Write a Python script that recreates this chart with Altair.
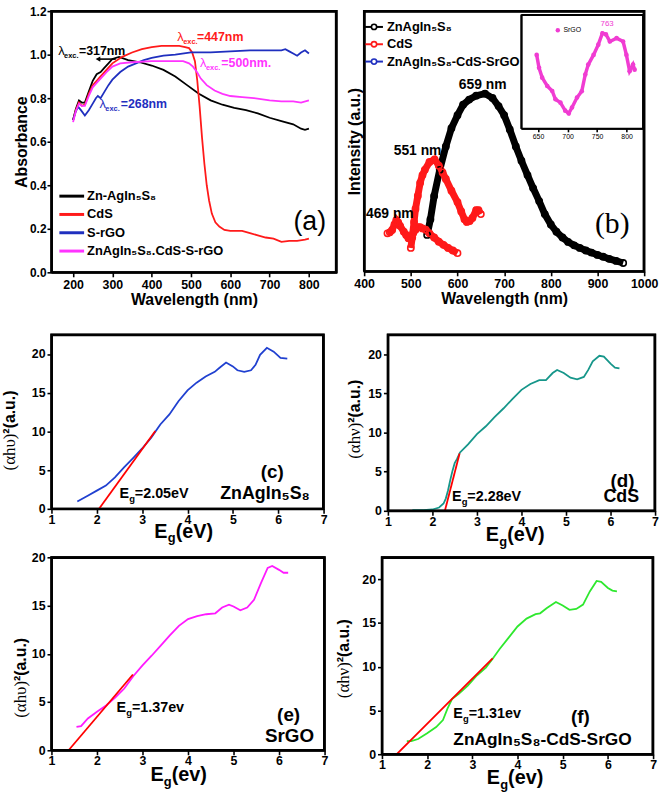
import altair as alt
import pandas as pd

SANS = "Liberation Sans"
SERIF = "Liberation Serif"

# ---------------- (a) UV-vis absorbance ----------------
A_NAMES = ["Zn-AgIn₅S₈", "CdS", "S-rGO", "ZnAgIn₅S₈.CdS-S-rGO"]
A_COLORS = ["#000000", "#ff1a1a", "#1f2fbf", "#ff33ff"]
a_wl_zn = [200, 207, 215, 222, 230, 240, 250, 260, 270, 280, 290, 300, 317, 340, 370, 400, 430, 460, 490,
           520, 550, 580, 610, 640, 670, 700, 730, 760, 780, 790, 800]
a_abs_zn = [0.70, 0.75, 0.79, 0.78, 0.78, 0.83, 0.88, 0.91, 0.92, 0.94, 0.96, 0.98, 0.99, 0.975, 0.965, 0.95,
            0.93, 0.90, 0.86, 0.82, 0.79, 0.77, 0.755, 0.745, 0.73, 0.71, 0.695, 0.68, 0.66, 0.655, 0.66]
a_wl_cds = [200, 207, 215, 222, 230, 240, 250, 260, 270, 285, 300, 325, 350, 375, 400, 425, 450, 470, 485, 495,
            503, 510, 516, 522, 528, 534, 540, 546, 553, 562, 572, 585, 600, 630, 650, 670, 690, 710, 730, 750,
            770, 790, 800]
a_abs_cds = [0.70, 0.745, 0.78, 0.765, 0.77, 0.82, 0.86, 0.88, 0.90, 0.93, 0.96, 0.99, 1.01, 1.025, 1.035, 1.04,
             1.04, 1.04, 1.035, 1.03, 1.01, 0.97, 0.88, 0.76, 0.62, 0.50, 0.40, 0.33, 0.27, 0.23, 0.21, 0.195,
             0.19, 0.19, 0.18, 0.17, 0.16, 0.155, 0.14, 0.145, 0.145, 0.15, 0.155]
a_wl_srgo = [200, 207, 213, 220, 230, 240, 250, 258, 263, 270, 280, 290, 300, 320, 340, 360, 380, 400, 430, 460,
             500, 550, 600, 650, 700, 730, 740, 750, 760, 770, 780, 790, 800]
a_abs_srgo = [0.70, 0.74, 0.76, 0.745, 0.72, 0.745, 0.775, 0.80, 0.81, 0.80, 0.83, 0.86, 0.885, 0.92, 0.945,
              0.96, 0.975, 0.985, 0.995, 1.0, 1.01, 1.01, 1.015, 1.02, 1.02, 1.02, 1.025, 1.015, 1.005, 0.995,
              1.01, 1.02, 1.005]
a_wl_comp = [200, 207, 215, 222, 230, 240, 250, 260, 270, 285, 300, 320, 350, 400, 450, 480, 495, 505, 515, 525,
             540, 560, 580, 600, 630, 660, 700, 730, 760, 780, 800]
a_abs_comp = [0.69, 0.74, 0.775, 0.765, 0.765, 0.81, 0.85, 0.87, 0.89, 0.92, 0.945, 0.96, 0.965, 0.97, 0.97,
              0.97, 0.96, 0.945, 0.92, 0.89, 0.86, 0.835, 0.82, 0.81, 0.805, 0.80, 0.79, 0.785, 0.785, 0.78, 0.79]
a_exc_labels = ["=317nm", "=447nm", "=500nm.", "=268nm"]
a_xticks = [200, 300, 400, 500, 600, 700, 800]
A_XDOM = [145, 870]
A_YDOM = [0, 1.2]

# ---------------- (b) photoluminescence ----------------
B_NAMES = ["ZnAgIn₅S₈", "CdS", "ZnAgIn₅S₈-CdS-SrGO"]
B_COLORS = ["#000000", "#ff1a1a", "#1f2fbf"]
b_wl_zn = [535, 542, 550, 562, 575, 587, 600, 612, 625, 640, 659, 675, 688, 700, 712, 725, 737, 750, 762, 775,
           787, 800, 812, 825, 837, 850, 862, 875, 887, 900, 912, 925, 940, 955]
b_int_zn = [14, 20, 29, 39, 48, 55, 60, 64, 66, 67.5, 68.3, 66.6, 63.5, 60, 54.5, 48, 42.5, 37, 32, 27, 22, 18,
            15.2, 13, 11.3, 10, 9, 8, 7.2, 6.3, 5.6, 4.8, 4, 3.2]
b_wl_cds = [500, 503, 507, 510, 515, 520, 525, 530, 540, 551, 560, 568, 575, 587, 600, 608, 615, 620, 626, 632,
            640, 645, 650]
b_int_cds = [9, 13, 19, 24, 29, 34, 37, 39, 42, 43, 40.6, 38, 35.5, 31, 26.6, 23, 20, 19, 19.3, 20.5, 23.5,
             23.5, 22]
b_wl_comp = [450, 455, 460, 465, 469, 473, 477, 485, 490, 495, 500, 505, 510, 515, 520, 525, 532, 540, 550, 560,
             570, 580, 590, 600]
b_int_comp = [14.6, 15, 15.9, 18, 19.7, 18.8, 17.5, 15.2, 14, 12.7, 12.7, 14.6, 16, 17, 17, 16.5, 16, 14.6, 13,
              11.4, 10.2, 9, 8, 7]
b_peak_labels = ["659 nm", "551 nm", "469 nm"]
B_XDOM = [400, 1000]
B_YDOM = [0, 100]
# inset: SrGO
ins_wl = [647.7, 651.7, 657, 665.6, 674, 679.5, 688, 696, 702, 707.5, 716, 724, 730, 735, 744, 752, 759, 765,
          771.6, 783, 794, 799.6, 805, 810.8, 813.5]
ins_int = [65, 53.6, 45, 37.7, 33.3, 26, 23, 16, 13.6, 18.8, 27.5, 33, 47.8, 56.5, 65, 74, 84, 83, 76.8, 79.7,
           76.8, 65, 50.7, 56.5, 52]
ins_ticks = [650, 700, 750, 800]
I_XDOM = [622, 828]
I_YDOM = [0, 100]

# ---------------- (c)-(f) Tauc plots ----------------
c_eg = [1.57, 1.8, 2.0, 2.2, 2.4, 2.6, 2.8, 3.0, 3.2, 3.4, 3.6, 3.8, 4.0, 4.2, 4.4, 4.6, 4.7, 4.85, 5.0, 5.1,
        5.25, 5.4, 5.5, 5.6, 5.75, 5.9, 6.05, 6.2]
c_val = [0.94, 1.7, 2.35, 3.0, 4.07, 5.35, 6.55, 7.8, 9.2, 10.9, 12.2, 13.9, 15.3, 16.3, 17.1, 17.7, 18.2, 18.9,
         18.4, 17.9, 17.7, 17.9, 18.6, 19.9, 20.8, 20.3, 19.5, 19.4]
c_fit_x = [2.05, 3.29]
c_fit_y = [0, 10.06]
d_eg = [1.55, 1.8, 2.0, 2.15, 2.25, 2.3, 2.35, 2.4, 2.45, 2.5, 2.55, 2.62, 2.8, 3.0, 3.2, 3.4, 3.6, 3.8, 4.0,
        4.2, 4.4, 4.55, 4.7, 4.8, 4.95, 5.1, 5.25, 5.4, 5.5, 5.6, 5.75, 5.85, 6.0, 6.1, 6.2]
d_val = [0.08, 0.08, 0.17, 0.42, 0.93, 1.56, 2.6, 3.9, 5.1, 6.1, 6.6, 7.45, 8.5, 9.8, 10.8, 12.0, 13.1, 14.3,
         15.45, 16.2, 16.7, 16.7, 17.6, 18.0, 17.6, 17.0, 16.8, 17.1, 18.0, 19.1, 19.8, 19.7, 18.8, 18.3, 18.2]
d_fit_x = [2.28, 2.61]
d_fit_y = [0, 7.33]
e_eg = [1.55, 1.65, 1.8, 2.0, 2.2, 2.4, 2.6, 2.8, 3.0, 3.2, 3.4, 3.6, 3.8, 4.0, 4.2, 4.4, 4.6, 4.75, 4.9, 5.0,
        5.15, 5.3, 5.45, 5.6, 5.75, 5.85, 6.0, 6.1, 6.2]
e_val = [2.42, 2.5, 3.3, 4.0, 4.64, 5.46, 6.4, 7.7, 8.8, 9.8, 10.85, 11.9, 12.9, 13.6, 13.9, 14.1, 14.2, 14.8,
         15.1, 14.9, 14.5, 14.8, 15.6, 17.3, 18.9, 19.1, 18.7, 18.4, 18.4]
e_fit_x = [1.377, 2.79]
e_fit_y = [0, 7.85]
f_eg = [1.55, 1.65, 1.8, 2.0, 2.2, 2.35, 2.45, 2.55, 2.7, 2.9, 3.1, 3.3, 3.45, 3.6, 3.8, 4.0, 4.2, 4.4, 4.5,
        4.65, 4.85, 5.0, 5.15, 5.3, 5.45, 5.6, 5.75, 5.85, 6.0, 6.1, 6.2]
f_val = [1.5, 1.5, 1.74, 2.4, 3.1, 3.9, 5.2, 6.3, 6.9, 7.85, 9.0, 9.9, 10.9, 12.0, 13.3, 14.6, 15.5, 16.0, 16.1,
         16.7, 17.4, 17.0, 16.5, 16.6, 17.1, 18.6, 19.8, 19.7, 19.0, 18.7, 18.6]
f_fit_x = [1.328, 3.449]
f_fit_y = [0, 10.94]
eg_values = ["=2.05eV", "=2.28eV", "=1.37ev", "=1.31ev"]

ONE = pd.DataFrame({"k": [0]})
LW = 2.4  # frame line width


def txt(text, x, y, size, color="black", weight="bold", font=SANS, align="left",
        baseline="alphabetic", dx=0, dy=0, angle=0):
    kw = dict(text=text, fontSize=size, color=color, fontWeight=weight, font=font,
              align=align, baseline=baseline, dx=dx, dy=dy)
    if angle:
        kw["angle"] = angle
    return alt.Chart(ONE).mark_text(**kw).encode(x=x, y=y)


def hrule(x1, x2, y, color="#000000", width=2.0):
    return alt.Chart(ONE).mark_rule(color=color, strokeWidth=width).encode(
        x=alt.value(x1), x2=alt.value(x2), y=alt.value(y))


def vrule(x, y1, y2, color="#000000", width=2.0):
    return alt.Chart(ONE).mark_rule(color=color, strokeWidth=width).encode(
        x=alt.value(x), y=alt.value(y1), y2=alt.value(y2))


def box(xenc, yenc, xf, yf, xdom, ydom, width=LW):
    """Closed plot box drawn as a line through the panel's own scales (domain corners)."""
    df = pd.DataFrame({
        xf: [xdom[0], xdom[0], xdom[1], xdom[1], xdom[0]],
        yf: [ydom[0], ydom[1], ydom[1], ydom[0], ydom[0]],
        "ord": [0, 1, 2, 3, 4],
    })
    return alt.Chart(df).mark_line(color="#000000", strokeWidth=width).encode(
        x=xenc, y=yenc, order=alt.Order("ord:Q"))


def edge_rules(w, h):
    # thick edge lines just inside the plot box
    return [hrule(0.5, w - 0.5, 0.5, width=2.2), vrule(w - 0.5, 0.5, h - 0.5, width=2.2)]


def axis(values, test, title=None, fmt=None, **kw):
    d = dict(values=values, labelExpr=f"({test}) ? datum.label : ''",
             tickSize={"condition": {"test": test, "value": 4.5}, "value": 2.5},
             title=title, grid=False, labelOverlap=False, labelFlush=False)
    if fmt:
        d["format"] = fmt
    d.update(kw)
    return alt.Axis(**d)


# ================= panel (a) =================
AW, AH = 288, 264
a_df = pd.concat([
    pd.DataFrame({"wl": w, "absb": v, "series": n})
    for w, v, n in [(a_wl_zn, a_abs_zn, A_NAMES[0]), (a_wl_cds, a_abs_cds, A_NAMES[1]),
                    (a_wl_srgo, a_abs_srgo, A_NAMES[2]), (a_wl_comp, a_abs_comp, A_NAMES[3])]
])
xa = alt.X("wl:Q", scale=alt.Scale(domain=A_XDOM, nice=False, zero=False),
           axis=alt.Axis(values=a_xticks, format="d", title="Wavelength (nm)", titlePadding=1,
                         tickSize=4.5, grid=False, labelOverlap=False, labelFlush=False))
ya = alt.Y("absb:Q", scale=alt.Scale(domain=A_YDOM, nice=False),
           axis=axis([round(i * 0.1, 1) for i in range(13)],
                     "abs(datum.value*5 - round(datum.value*5)) < 0.001", title="Absorbance", fmt=".1f",
                     titlePadding=0, labelPadding=1, labelFontSize=12))
a_lines = alt.Chart(a_df).mark_line(strokeWidth=1.8).encode(
    x=xa, y=ya,
    color=alt.Color("series:N", sort=A_NAMES, scale=alt.Scale(domain=A_NAMES, range=A_COLORS), legend=None))

a_leg = []
for i, (nm, col) in enumerate(zip(A_NAMES, A_COLORS)):
    yy = 187 + 18.5 * i
    a_leg.append(hrule(8, 33, yy, color=col, width=3))
    a_leg.append(txt(nm, alt.value(36), alt.value(yy), 13, baseline="middle"))


def lam(x, y, rest, color, dx_rest):
    return [
        txt("λ", alt.datum(x), alt.datum(y), 13, color=color, weight="normal"),
        txt("exc.", alt.datum(x), alt.datum(y), 7.5, color=color, dx=6, dy=3),
        txt(rest, alt.datum(x), alt.datum(y), 12.5, color=color, dx=dx_rest),
    ]


a_ann = (lam(162, 1.0, a_exc_labels[0], "#000000", 21)
         + lam(465, 1.064, a_exc_labels[1], "#ff1a1a", 20)
         + lam(523, 0.942, a_exc_labels[2], "#ff33ff", 21.5)
         + lam(267, 0.753, a_exc_labels[3], "#1f2fbf", 21.5))
a_arrow = hrule(49, 65, 48.5, width=1.6)
a_head = alt.Chart(ONE).mark_point(shape="triangle-left", filled=True, size=30, color="#000000",
                                   opacity=1).encode(x=alt.value(47), y=alt.value(48.5))
a_tag = txt("(a)", alt.datum(802), alt.datum(0.23), 27, weight="normal", align="center",
            baseline="middle")
panel_a = alt.layer(a_lines, *a_ann, a_arrow, a_head, a_tag, *a_leg,
                    box(xa, ya, "wl", "absb", A_XDOM, A_YDOM), *edge_rules(AW, AH)).properties(
    width=AW, height=AH)

# ================= panel (b) =================
BW, BH = 283, 263
b_df = pd.concat([
    pd.DataFrame({"wl": w, "inten": v, "series": n})
    for w, v, n in [(b_wl_zn, b_int_zn, B_NAMES[0]), (b_wl_cds, b_int_cds, B_NAMES[1]),
                    (b_wl_comp, b_int_comp, B_NAMES[2])]
])
xb = alt.X("wl:Q", scale=alt.Scale(domain=B_XDOM, nice=False, zero=False),
           axis=axis(list(range(400, 1001, 50)), "datum.value % 100 === 0", title="Wavelength (nm)",
                     fmt="d", titlePadding=1))
yb = alt.Y("inten:Q", scale=alt.Scale(domain=B_YDOM, nice=False),
           axis=alt.Axis(labels=False, ticks=False, grid=False, title="Intensity (a.u.)",
                         titlePadding=2))
b_color = alt.Color("series:N", sort=B_NAMES, scale=alt.Scale(domain=B_NAMES, range=B_COLORS), legend=None)
b_lines = alt.Chart(b_df).mark_line(strokeWidth=7).encode(x=xb, y=yb, color=b_color)
b_pts = alt.Chart(b_df).mark_point(filled=False, size=40, strokeWidth=1.6, opacity=1).encode(
    x=xb, y=yb, color=b_color)
b_leg = []
for i, (nm, col) in enumerate(zip(B_NAMES, B_COLORS)):
    yy = 16 + 17.5 * i
    b_leg.append(hrule(1, 19, yy, color=col, width=2))
    b_leg.append(alt.Chart(ONE).mark_point(color=col, fill="white", filled=True, stroke=col,
                                           strokeWidth=1.6, size=28, opacity=1).encode(
        x=alt.value(10), y=alt.value(yy)))
    b_leg.append(txt(nm, alt.value(23), alt.value(yy), 13, baseline="middle"))
b_ann = [
    txt(b_peak_labels[0], alt.datum(654), alt.datum(71.7), 14, align="center", baseline="middle"),
    txt(b_peak_labels[1], alt.datum(514.5), alt.datum(46.3), 14, align="center", baseline="middle"),
    txt(b_peak_labels[2], alt.datum(455), alt.datum(22.2), 14, align="center", baseline="middle"),
    txt("(b)", alt.datum(931.5), alt.datum(18), 30, weight="normal", font=SERIF, align="center",
        baseline="middle"),
]
ins_edges = [hrule(159, 282, 4, width=2), hrule(159, 282, 119, width=2),
             vrule(159, 4, 119, width=2), vrule(282, 4, 119, width=2)]
b_main = alt.layer(b_lines, b_pts, *b_ann, *b_leg, box(xb, yb, "wl", "inten", B_XDOM, B_YDOM),
                   *edge_rules(BW, BH), *ins_edges)

ins_df = pd.DataFrame({"nm": ins_wl, "sig": ins_int})
xi = alt.X("nm:Q", scale=alt.Scale(domain=I_XDOM, range=[159, 282], nice=False, zero=False),
           axis=alt.Axis(orient="bottom", offset=-144, values=ins_ticks, title=None, grid=False,
                         labelFontSize=7, labelFontWeight="normal", tickSize=3, domain=False,
                         labelPadding=1, labelOverlap=False, labelFlush=False))
yi = alt.Y("sig:Q", scale=alt.Scale(domain=I_YDOM, range=[119, 4], nice=False), axis=None)
ins_line = alt.Chart(ins_df).mark_line(color="#f03cd2", strokeWidth=3.5).encode(x=xi, y=yi)
ins_dots = alt.Chart(ins_df).mark_circle(color="#f03cd2", size=22, opacity=1).encode(x=xi, y=yi)
ins_leg = alt.Chart(ONE).mark_circle(color="#f03cd2", size=20, opacity=1).encode(
    x=alt.datum(683.5), y=alt.datum(86.7))
ins_txt = [
    txt("SrGO", alt.datum(693), alt.datum(86.7), 7, weight="normal", baseline="middle"),
    txt("763", alt.datum(767), alt.datum(92), 8, color="#f03cd2", weight="normal", align="center",
        baseline="middle"),
]
b_inset = alt.layer(ins_line, ins_dots, box(xi, yi, "nm", "sig", I_XDOM, I_YDOM, width=1.8),
                    ins_leg, *ins_txt)
panel_b = alt.layer(b_main, b_inset).resolve_scale(
    x="independent", y="independent").properties(width=BW, height=BH)


# ================= panels (c)-(f) =================
def tauc(eg, val, color, fit_x, fit_y, w, h, ymax, eg_text, eg_xy, tag, tag_xy, name, name_xy,
         name_size, name_align, glyph, unit_x, ytitle_junction, ytitle_x, xtitle_left, xtitle_dy):
    df = pd.DataFrame({"eg": eg, "val": val})
    fit = pd.DataFrame({"eg": fit_x, "val": fit_y})
    yvals = [i * 2.5 for i in range(int(ymax / 2.5) + 1)]
    x = alt.X("eg:Q", scale=alt.Scale(domain=[1, 7], nice=False, zero=False),
              axis=axis([1 + 0.5 * i for i in range(13)], "datum.value % 1 === 0", title=None,
                        fmt=".0f", labelPadding=0))
    y = alt.Y("val:Q", scale=alt.Scale(domain=[0, ymax], nice=False),
              axis=axis(yvals, "datum.value % 5 === 0", title=None, fmt=".0f"))
    curve = alt.Chart(df).mark_line(color=color, strokeWidth=1.8).encode(x=x, y=y)
    fitl = alt.Chart(fit).mark_line(color="#ff0000", strokeWidth=1.8).encode(x=x, y=y)
    ex, ey = eg_xy
    layers = [
        curve, fitl,
        txt("E", alt.datum(ex), alt.datum(ey), 14.5),
        txt("g", alt.datum(ex), alt.datum(ey), 9.5, dx=9.8, dy=4),
        txt(eg_text, alt.datum(ex), alt.datum(ey), 14.5, dx=15.5),
        txt(tag, alt.datum(tag_xy[0]), alt.datum(tag_xy[1]), 19, align="center", baseline="middle"),
        txt(name, alt.datum(name_xy[0]), alt.datum(name_xy[1]), name_size, align=name_align,
            baseline="middle"),
        # x title  E_g(eV)
        txt("E", alt.value(xtitle_left), alt.value(h + xtitle_dy), 20),
        txt("g", alt.value(xtitle_left + 13.5), alt.value(h + xtitle_dy + 5), 13),
        txt(unit_x, alt.value(xtitle_left + 21.5), alt.value(h + xtitle_dy), 20),
        # y title (αhυ)²(a.u.)
        txt(glyph, alt.value(ytitle_x), alt.value(ytitle_junction), 17, weight="normal", font=SERIF,
            align="right", baseline="middle", angle=270),
        txt("²(a.u.)", alt.value(ytitle_x), alt.value(ytitle_junction), 16, align="left",
            baseline="middle", angle=270),
        box(x, y, "eg", "val", [1, 7], [0, ymax]),
    ] + edge_rules(w, h)
    return alt.layer(*layers).properties(width=w, height=h)


panel_c = tauc(c_eg, c_val, "#2040d0", c_fit_x, c_fit_y, 275, 176, 22.5, eg_values[0], (2.5, 1.45),
               "(c)", (5.87, 4.76), "ZnAgIn₅S₈", (5.71, 1.93), 18, "center", "(αhυ)", "(eV)",
               100, -42, 104, 29)
panel_d = tauc(d_eg, d_val, "#16968a", d_fit_x, d_fit_y, 270, 178, 22.5, eg_values[1], (2.44, 1.30),
               "(d)", (6.27, 3.79), "CdS", (6.24, 1.77), 18, "center", "(αhν)", "(eV)",
               89, -33, 99, 31)
panel_e = tauc(e_eg, e_val, "#ff1aff", e_fit_x, e_fit_y, 276, 195, 20, eg_values[2], (2.43, 4.0),
               "(e)", (6.21, 3.66), "SrGO", (6.23, 1.44), 19, "center", "(αhυ)", "(ev)",
               125, -31, 100, 31)
panel_f = tauc(f_eg, f_val, "#2ee82e", f_fit_x, f_fit_y, 274, 199, 22.5, eg_values[3], (2.58, 4.1),
               "(f)", (5.39, 4.3), "ZnAgIn₅S₈-CdS-SrGO", (2.58, 1.66), 17.5, "left", "(αhν)", "(ev)",
               106, -38, 106, 30)

row1 = alt.hconcat(panel_a, panel_b, spacing=3)
row2 = alt.hconcat(panel_c, panel_d, spacing=16)
row3 = alt.hconcat(panel_e, panel_f, spacing=4)
chart = alt.vconcat(row1, alt.vconcat(row2, row3, spacing=0), spacing=20).properties(
    padding={"left": 0, "top": 0, "right": 0, "bottom": 0}
).configure_view(stroke="#000000", strokeWidth=2).configure_axis(
    domainColor="#000000", domainWidth=2, tickColor="#000000", tickWidth=1.6,
    labelColor="black", labelFont=SANS, labelFontWeight="bold", labelFontSize=12.5,
    titleFont=SANS, titleFontWeight="bold", titleFontSize=16, titleColor="black",
    labelPadding=2
)

chart.save("out.html", embed_options={"renderer": "svg", "actions": False})
